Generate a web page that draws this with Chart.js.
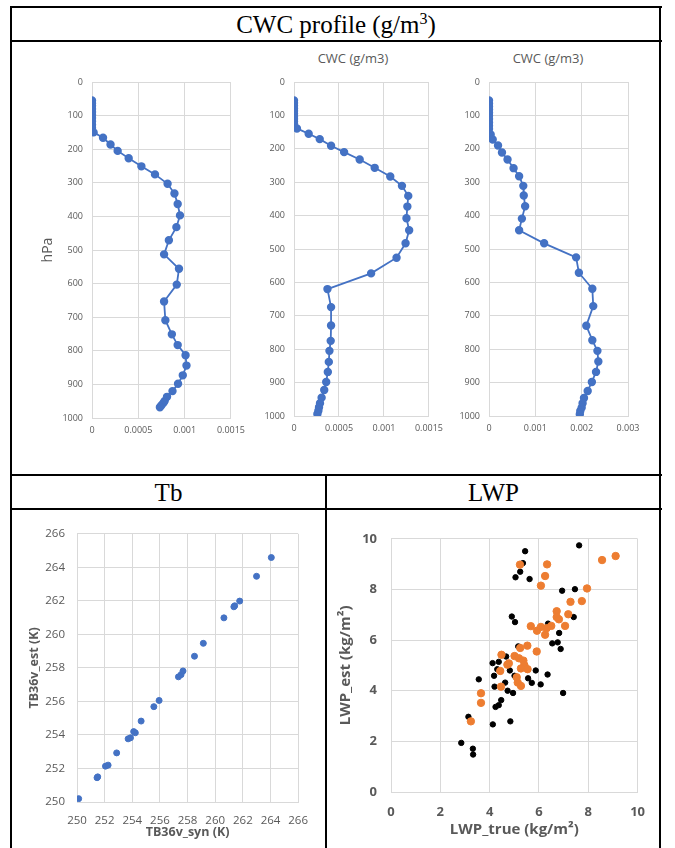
<!DOCTYPE html>
<html>
<head>
<meta charset="utf-8">
<script src="https://cdn.jsdelivr.net/npm/chart.js@4.4.0/dist/chart.umd.min.js"></script>
<style>
  body { margin: 0; width: 675px; height: 848px; background: #fff; position: relative; overflow: hidden; }
  .ln { position: absolute; background: #000; }
  .cell { position: absolute; text-align: center; font-family: "Liberation Serif", serif; font-size: 25px; color: #000; }
  .cell sup { font-size: 16px; line-height: 0; }
  .box { position: absolute; }
  .sub { position: absolute; width: 120px; text-align: center; font-family: "Open Sans", sans-serif; font-size: 13px; color: #595959; }
</style>
</head>
<body>
<!-- table frame -->
<div class="ln" style="left:10px;top:6px;width:652px;height:2px"></div>
<div class="ln" style="left:10px;top:40px;width:652px;height:2px"></div>
<div class="ln" style="left:10px;top:474px;width:652px;height:2px"></div>
<div class="ln" style="left:10px;top:508px;width:652px;height:2px"></div>
<div class="ln" style="left:10px;top:6px;width:2px;height:842px"></div>
<div class="ln" style="left:659px;top:6px;width:2px;height:842px"></div>
<div class="ln" style="left:325px;top:474px;width:2px;height:374px"></div>

<div class="cell" style="left:11px;top:8px;width:650px;height:32px;line-height:34px">CWC profile (g/m<sup>3</sup>)</div>
<div class="cell" style="left:11px;top:476px;width:315px;height:32px;line-height:34px">Tb</div>
<div class="cell" style="left:326px;top:476px;width:335px;height:32px;line-height:34px">LWP</div>

<div class="sub" style="left:293px;top:49px">CWC (g/m3)</div>
<div class="sub" style="left:488px;top:49px">CWC (g/m3)</div>

<script>
// ---- profile 1 ----
const p1Pressure = [55, 63, 71, 80, 89, 98, 107, 117, 127, 137, 150, 166, 186, 205, 227, 251, 275, 303, 332, 363,
  397, 432, 471, 513, 556, 603, 653, 709, 751, 783, 813, 844, 873, 898, 920, 937, 949, 955, 962, 968];
const p1Cwc = [0, 0, 0, 0, 0, 0, 0, 0, 0, 0, 0.0000175, 0.000119, 0.0002, 0.000277, 0.000396, 0.000533, 0.00068, 0.000816, 0.00089, 0.000925,
  0.00095, 0.000911, 0.00083, 0.000778, 0.000939, 0.000915, 0.000778, 0.000792, 0.000862, 0.000925,
  0.00101, 0.00102, 0.00098, 0.000929, 0.000869, 0.00081, 0.000785, 0.000771, 0.00075, 0.000733];

// ---- profile 2 ----
const p2Pressure = [55, 63, 71, 79, 87, 95, 103, 111, 118, 125, 139, 155, 171, 191, 210, 232, 257, 283, 311, 341,
  373, 408, 444, 483, 526, 573, 620, 674, 729, 775, 805, 838, 868, 898, 922, 945, 962, 974, 984, 994];
const p2Cwc = [0, 0, 0, 0, 0, 0, 0, 0, 0, 0, 0.0000325, 0.000163, 0.000286, 0.000412, 0.000557, 0.00073, 0.000897, 0.00107, 0.0012, 0.00127,
  0.00126, 0.00125, 0.00128, 0.00124, 0.00114, 0.000857, 0.000372, 0.000412, 0.000412, 0.000408,
  0.000394, 0.000387, 0.000376, 0.000358, 0.000336, 0.000307, 0.000289, 0.000278, 0.000271, 0.00026];

// ---- profile 3 ----
const p3Pressure = [55, 64, 73, 82, 92, 101, 111, 121, 131, 141, 157, 172, 190, 211, 232, 258, 282, 311, 340, 372,
  409, 444, 483, 525, 571, 619, 671, 730, 773, 805, 837, 868, 898, 925, 946, 962, 975, 985, 995];
const p3Cwc = [0, 0, 0, 0, 0, 0, 0, 0, 0, 0, 0.000036, 0.00008, 0.000195, 0.00028, 0.0004, 0.00053, 0.00065, 0.00074, 0.00075, 0.00078,
  0.00071, 0.00065, 0.00119, 0.00188, 0.00194, 0.00223, 0.00225, 0.0021, 0.00223, 0.00234,
  0.00236, 0.00231, 0.00222, 0.00213, 0.00205, 0.00202, 0.002, 0.00197, 0.00196];

// ---- Tb scatter ----
const tbSyn = [250.12, 251.45, 251.5, 252.06, 252.25, 252.87, 253.7, 253.87, 254.1, 254.22, 254.64, 255.56, 255.94,
  257.34, 257.53, 257.67, 258.5, 259.14, 260.63, 261.35, 261.41, 261.77, 262.99, 264.06];
const tbEst = [250.2, 251.45, 251.5, 252.14, 252.2, 252.93, 253.77, 253.83, 254.2, 254.13, 254.83, 255.69, 256.06,
  257.47, 257.6, 257.82, 258.7, 259.47, 260.99, 261.65, 261.71, 261.99, 263.47, 264.59];

// ---- LWP scatter: black series ----
const lwpTrueA = [5.44, 7.63, 5.35, 5.24, 5.05, 5.62, 6.94, 7.46, 4.90, 5.03, 6.37, 7.41, 6.82, 6.76, 6.54, 6.88, 5.16, 4.67, 4.37, 4.12,
  4.31, 4.18, 4.82, 5.01, 5.87, 6.35, 5.56, 5.71, 6.07, 4.63, 4.20, 3.56, 4.73, 4.95, 6.98, 4.47, 4.37, 4.24, 3.14, 4.84,
  4.13, 2.85, 3.32, 3.33];
const lwpEstA = [9.51, 9.74, 9.04, 8.70, 8.48, 8.41, 7.95, 8.01, 6.93, 6.71, 6.65, 6.91, 6.28, 5.91, 5.87, 5.65, 5.75, 5.35, 5.14, 5.09,
  4.85, 4.59, 4.80, 4.59, 4.80, 4.64, 4.49, 4.31, 4.25, 4.32, 4.16, 4.45, 4.00, 3.91, 3.91, 3.63, 3.43, 3.36, 2.97, 2.79,
  2.67, 1.94, 1.71, 1.48];
// ---- LWP scatter: orange series ----
const lwpTrueB = [5.23, 6.33, 6.25, 6.08, 8.56, 9.11, 7.95, 7.74, 7.28, 6.72, 7.19, 6.72, 6.81, 7.06, 6.50, 6.31, 6.08, 5.92, 5.67, 6.25,
  5.24, 5.53, 5.91, 4.48, 5.01, 5.19, 5.37, 5.41, 4.78, 4.72, 5.27, 5.54, 4.43, 5.10, 5.14, 5.27, 4.46, 3.65, 3.65, 3.24];
const lwpEstB = [8.98, 8.99, 8.53, 8.15, 9.16, 9.32, 8.04, 7.54, 7.51, 7.14, 7.02, 6.91, 6.82, 6.56, 6.56, 6.47, 6.52, 6.37, 6.55, 6.21,
  5.69, 5.78, 5.55, 5.42, 5.37, 5.28, 5.19, 5.01, 5.08, 5.03, 4.88, 4.85, 4.78, 4.53, 4.32, 4.19, 4.16, 3.90, 3.52, 2.79];

const FONT = '"Open Sans", sans-serif';
const GREY = '#595959';
const GRID = '#D9D9D9';
const BLUE = '#4472C4';

const pts = (xs, ys) => xs.map((x, i) => ({ x: x, y: ys[i] }));
const plain = v => String(+v.toFixed(4));   // no thousands separator

// place a canvas at rect (page px) and force the plot area onto area (page px)
function makeChart(rect, area, cfg) {
  const div = document.createElement('div');
  div.className = 'box';
  div.style.left = rect.l + 'px';
  div.style.top = rect.t + 'px';
  const cv = document.createElement('canvas');
  cv.width = rect.r - rect.l;
  cv.height = rect.b - rect.t;
  div.appendChild(cv);
  document.body.appendChild(div);

  const yW = area.l - rect.l, xH = rect.b - area.b;
  cfg.options.responsive = false;
  cfg.options.animation = false;
  cfg.options.layout = { padding: { left: 0, top: area.t - rect.t, right: rect.r - area.r, bottom: 0 } };
  cfg.options.plugins = { legend: { display: false }, tooltip: { enabled: false } };
  cfg.options.scales.x.afterFit = s => { s.height = xH; };
  cfg.options.scales.y.afterFit = s => { s.width = yW; };
  return new Chart(cv, cfg);
}

function profileCfg(cwc, pres, xMax, xStep, showHpa) {
  return {
    type: 'scatter',
    data: {
      datasets: [{
        data: pts(cwc, pres),
        showLine: true,
        borderColor: BLUE,
        backgroundColor: BLUE,
        borderWidth: 1.8,
        pointRadius: 3.3
      }]
    },
    options: {
      scales: {
        x: {
          type: 'linear', min: 0, max: xMax,
          ticks: { stepSize: xStep, color: GREY, font: { family: FONT, size: 9 }, padding: 7, callback: plain },
          grid: { color: GRID, drawTicks: false },
          border: { color: GRID }
        },
        y: {
          type: 'linear', reverse: true, min: 0, max: 1000,
          ticks: { stepSize: 100, color: GREY, font: { family: FONT, size: 9 }, padding: 9, callback: plain },
          grid: { color: GRID, drawTicks: false },
          border: { color: GRID },
          title: { display: showHpa, text: 'hPa', color: GREY, font: { family: FONT, size: 14 }, padding: 0 }
        }
      }
    }
  };
}

makeChart({ l: 40, t: 45, r: 252, b: 445 }, { l: 92, t: 82, r: 235, b: 418 },
  profileCfg(p1Cwc, p1Pressure, 0.0015, 0.0005, true));
makeChart({ l: 255, t: 45, r: 450, b: 445 }, { l: 294, t: 82, r: 433, b: 416 },
  profileCfg(p2Cwc, p2Pressure, 0.0015, 0.0005, false));
makeChart({ l: 452, t: 45, r: 655, b: 445 }, { l: 489, t: 82, r: 628, b: 416 },
  profileCfg(p3Cwc, p3Pressure, 0.003, 0.001, false));

// Tb
makeChart({ l: 27, t: 515, r: 320, b: 848 }, { l: 77, t: 529, r: 303, b: 802 }, {
  type: 'scatter',
  data: { datasets: [{ data: pts(tbSyn, tbEst), backgroundColor: BLUE, borderColor: BLUE, pointRadius: 3 }] },
  options: {
    scales: {
      x: {
        type: 'linear', min: 250, max: 266,
        ticks: { stepSize: 2, color: GREY, font: { family: FONT, size: 11.5 }, padding: 12, callback: plain },
        grid: { color: GRID, drawTicks: false }, border: { color: GRID },
        title: { display: true, text: 'TB36v_syn (K)', color: GREY, font: { family: FONT, size: 12.5, weight: 'bold' }, padding: { top: 0, bottom: 8 } }
      },
      y: {
        type: 'linear', min: 250, max: 266,
        ticks: { stepSize: 2, color: GREY, font: { family: FONT, size: 11.5 }, padding: 12, callback: plain },
        grid: { color: GRID, drawTicks: false }, border: { color: GRID },
        title: { display: true, text: 'TB36v_est (K)', color: GREY, font: { family: FONT, size: 12.5, weight: 'bold' }, padding: 0 }
      }
    }
  }
});

// LWP
makeChart({ l: 337, t: 517, r: 657, b: 848 }, { l: 391, t: 531, r: 646, b: 792 }, {
  type: 'scatter',
  data: {
    datasets: [
      { data: pts(lwpTrueB, lwpEstB), backgroundColor: '#ED7D31', borderColor: '#ED7D31', pointRadius: 3.7 },
      { data: pts(lwpTrueA, lwpEstA), backgroundColor: '#000000', borderColor: '#000000', pointRadius: 2.7 }
    ]
  },
  options: {
    scales: {
      x: {
        type: 'linear', min: 0, max: 10,
        ticks: { stepSize: 2, color: GREY, font: { family: FONT, size: 13, weight: 'bold' }, padding: 12, callback: plain },
        grid: { color: GRID, drawTicks: false }, border: { color: GRID },
        title: { display: true, text: 'LWP_true (kg/m²)', color: GREY, font: { family: FONT, size: 15, weight: 'bold' }, padding: { top: 0, bottom: 9 } }
      },
      y: {
        type: 'linear', min: 0, max: 10,
        ticks: { stepSize: 2, color: GREY, font: { family: FONT, size: 13, weight: 'bold' }, padding: 14, callback: plain },
        grid: { color: GRID, drawTicks: false }, border: { color: GRID },
        title: { display: true, text: 'LWP_est (kg/m²)', color: GREY, font: { family: FONT, size: 15, weight: 'bold' }, padding: 0 }
      }
    }
  }
});
</script>
</body>
</html>
